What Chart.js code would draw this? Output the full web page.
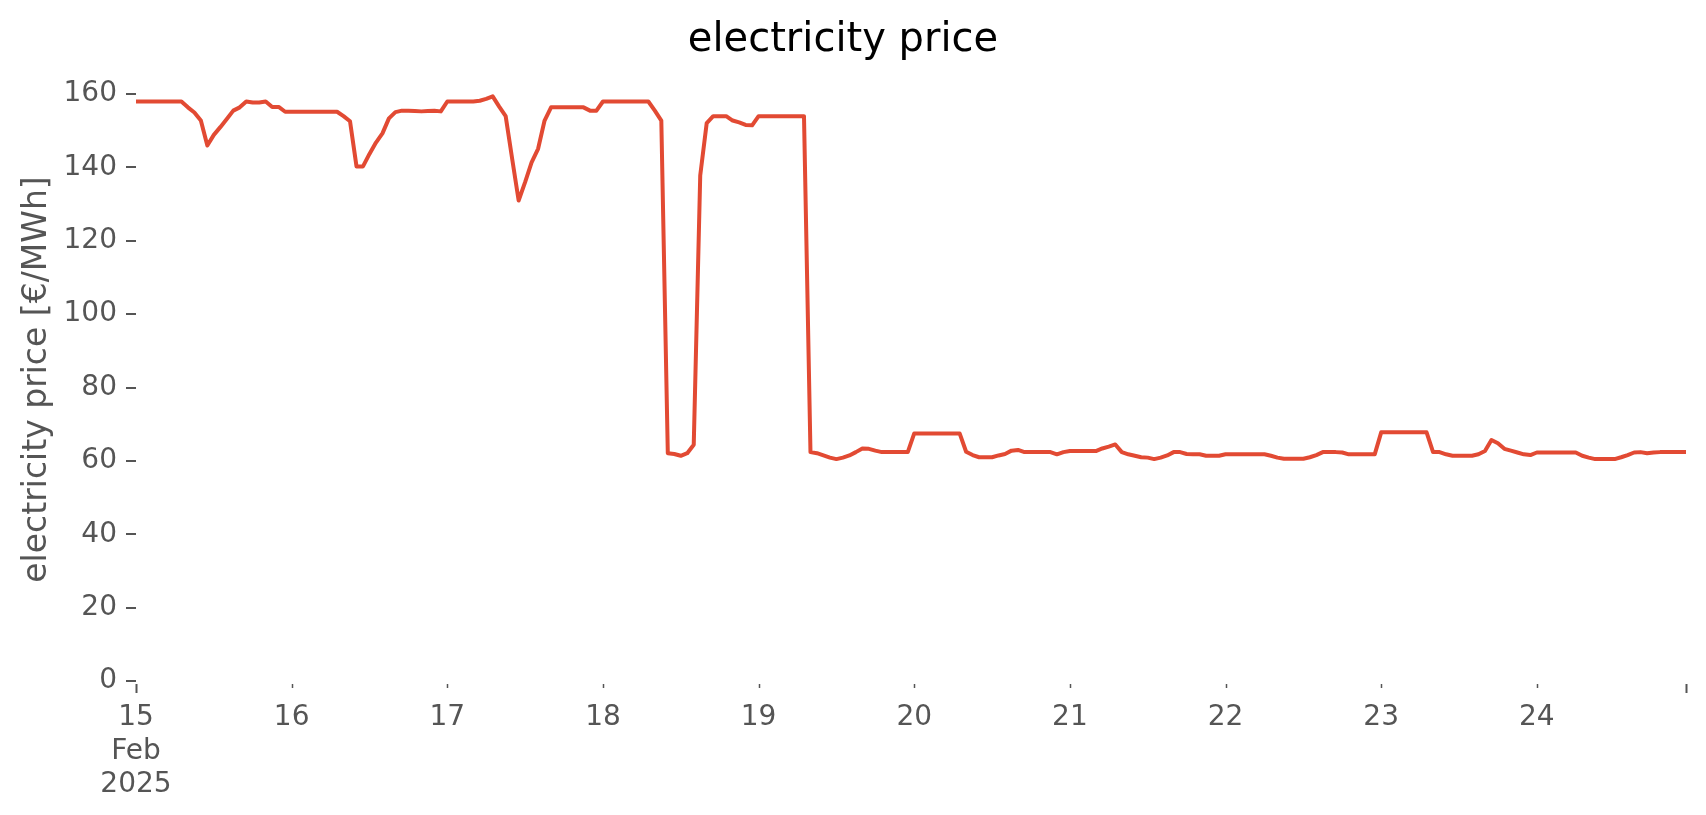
<!DOCTYPE html>
<html>
<head>
<meta charset="utf-8">
<title>electricity price</title>
<script src="https://cdn.jsdelivr.net/npm/chart.js@4.4.1/dist/chart.umd.min.js"></script>
<style>
    html, body { margin: 0; padding: 0; background: #fff; }
    canvas { display: block; }
</style>
</head>
<body>
<canvas id="priceChart" width="1706" height="815"></canvas>
<script>
// hourly prices in €/MWh, one array per day (00:00 - 23:00)
const feb15 = [158, 158, 158, 158, 158, 158, 158, 158, 156.4, 155.0, 152.8, 146.0,
               148.9, 151.0, 153.2, 155.5, 156.4, 158.0, 157.7, 157.7, 158.0, 156.5, 156.5, 155.2];
const feb16 = [155.2, 155.2, 155.2, 155.2, 155.2, 155.2, 155.2, 155.2, 154.0, 152.6, 140.3, 140.3,
               143.7, 146.8, 149.3, 153.4, 155.1, 155.5, 155.5, 155.4, 155.3, 155.4, 155.5, 155.3];
const feb17 = [158.0, 158.0, 158.0, 158.0, 158.0, 158.2, 158.7, 159.4, 156.6, 154.0, 142.4, 131.0,
               136.0, 141.4, 145.1, 152.8, 156.4, 156.4, 156.4, 156.4, 156.4, 156.4, 155.5, 155.5];
const feb18 = [158.0, 158.0, 158.0, 158.0, 158.0, 158.0, 158.0, 158.0, 155.5, 152.8, 62.1, 61.9,
               61.4, 62.1, 64.4, 137.8, 152.1, 154.0, 154.0, 154.0, 152.8, 152.3, 151.6, 151.5];
const feb19 = [154.0, 154.0, 154.0, 154.0, 154.0, 154.0, 154.0, 154.0, 62.4, 62.1, 61.5, 60.9,
               60.5, 60.9, 61.5, 62.4, 63.4, 63.3, 62.8, 62.4, 62.4, 62.4, 62.4, 62.4];
const feb20 = [67.5, 67.5, 67.5, 67.5, 67.5, 67.5, 67.5, 67.5, 62.5, 61.6, 61.0, 61.0,
               61.0, 61.5, 61.9, 62.8, 63.0, 62.4, 62.4, 62.4, 62.4, 62.4, 61.8, 62.4];
const feb21 = [62.7, 62.7, 62.7, 62.7, 62.7, 63.4, 63.9, 64.5, 62.4, 61.8, 61.4, 61.0,
               60.9, 60.5, 60.9, 61.5, 62.4, 62.4, 61.9, 61.8, 61.8, 61.4, 61.4, 61.4];
const feb22 = [61.8, 61.8, 61.8, 61.8, 61.8, 61.8, 61.8, 61.4, 60.9, 60.6, 60.6, 60.6,
               60.6, 61.0, 61.6, 62.4, 62.4, 62.4, 62.3, 61.8, 61.8, 61.8, 61.8, 61.8];
const feb23 = [67.8, 67.8, 67.8, 67.8, 67.8, 67.8, 67.8, 67.8, 62.4, 62.4, 61.8, 61.4,
               61.4, 61.4, 61.4, 61.8, 62.7, 65.7, 64.8, 63.3, 62.8, 62.3, 61.8, 61.6];
const feb24 = [62.3, 62.3, 62.3, 62.3, 62.3, 62.3, 62.3, 61.4, 60.9, 60.5, 60.5, 60.5,
               60.5, 61.0, 61.6, 62.3, 62.4, 62.1, 62.3, 62.4, 62.4, 62.4, 62.4, 62.4];

const dayLabels = ['15', '16', '17', '18', '19', '20', '21', '22', '23', '24'];
const firstLabel = ['15', 'Feb', '2025'];
const yTickValues = [0, 20, 40, 60, 80, 100, 120, 140, 160];

const prices = [].concat(feb15, feb16, feb17, feb18, feb19, feb20, feb21, feb22, feb23, feb24);
const lastHour = prices.length - 1;
const xTickValues = dayLabels.map((d, i) => i * 24).concat([lastHour]);

const FONT = "'DejaVu Sans', 'Liberation Sans', sans-serif";

// pandas-style x ticks: long marks at the ends, short ones for each day
const xTickMarks = {
    id: 'xTickMarks',
    afterDraw(chart) {
        const { ctx, chartArea, scales } = chart;
        const x = scales.x;
        ctx.save();
        ctx.strokeStyle = '#555555';
        x.ticks.forEach(t => {
            const px = Math.round(x.getPixelForValue(t.value)) + 0.5;
            const major = t.value === 0 || t.value === lastHour;
            ctx.lineWidth = major ? 2 : 1.5;
            ctx.beginPath();
            ctx.moveTo(px, chartArea.bottom + 3);
            ctx.lineTo(px, chartArea.bottom + (major ? 12 : 7));
            ctx.stroke();
        });
        ctx.restore();
    }
};

const ctx = document.getElementById('priceChart').getContext('2d');
new Chart(ctx, {
    type: 'line',
    data: {
        datasets: [{
            label: 'electricity price',
            data: prices.map((p, i) => ({ x: i, y: p })),
            borderColor: '#E24A33',
            backgroundColor: '#E24A33',
            borderWidth: 4,
            borderJoinStyle: 'round',
            pointRadius: 0,
            tension: 0,
            fill: false
        }]
    },
    options: {
        responsive: false,
        animation: false,
        devicePixelRatio: 1,
        layout: {
            padding: { left: 0, right: 20, top: 0, bottom: 0 }
        },
        plugins: {
            legend: { display: false },
            tooltip: { enabled: false },
            title: {
                display: true,
                text: 'electricity price',
                color: '#000000',
                font: { family: FONT, size: 40, weight: 'normal' },
                padding: { top: 17, bottom: 13 }
            }
        },
        scales: {
            x: {
                type: 'linear',
                min: 0,
                max: lastHour,
                border: { display: false },
                grid: {
                    drawOnChartArea: false,
                    drawTicks: true,
                    tickLength: 10,
                    color: 'rgba(0,0,0,0)'
                },
                afterBuildTicks: scale => {
                    scale.ticks = xTickValues.map(v => ({ value: v }));
                },
                afterFit: scale => { scale.height = 134; },
                ticks: {
                    autoSkip: false,
                    maxRotation: 0,
                    padding: 10,
                    color: '#555555',
                    font: { family: FONT, size: 28 },
                    callback: value => {
                        if (value === 0) return firstLabel;
                        if (value % 24 === 0) return dayLabels[value / 24];
                        return '';
                    }
                }
            },
            y: {
                min: 0,
                max: 164.4,
                border: { display: false },
                grid: {
                    drawOnChartArea: false,
                    drawTicks: true,
                    tickLength: 10,
                    lineWidth: 2,
                    color: '#555555'
                },
                afterBuildTicks: scale => {
                    scale.ticks = yTickValues.map(v => ({ value: v }));
                },
                afterFit: scale => { scale.width = 136; },
                ticks: {
                    padding: 9,
                    color: '#555555',
                    font: { family: FONT, size: 28 }
                },
                title: {
                    display: true,
                    text: 'electricity price [€/MWh]',
                    color: '#555555',
                    font: { family: FONT, size: 33 },
                    padding: { top: 18, bottom: 0 }
                }
            }
        }
    },
    plugins: [xTickMarks]
});
</script>
</body>
</html>
